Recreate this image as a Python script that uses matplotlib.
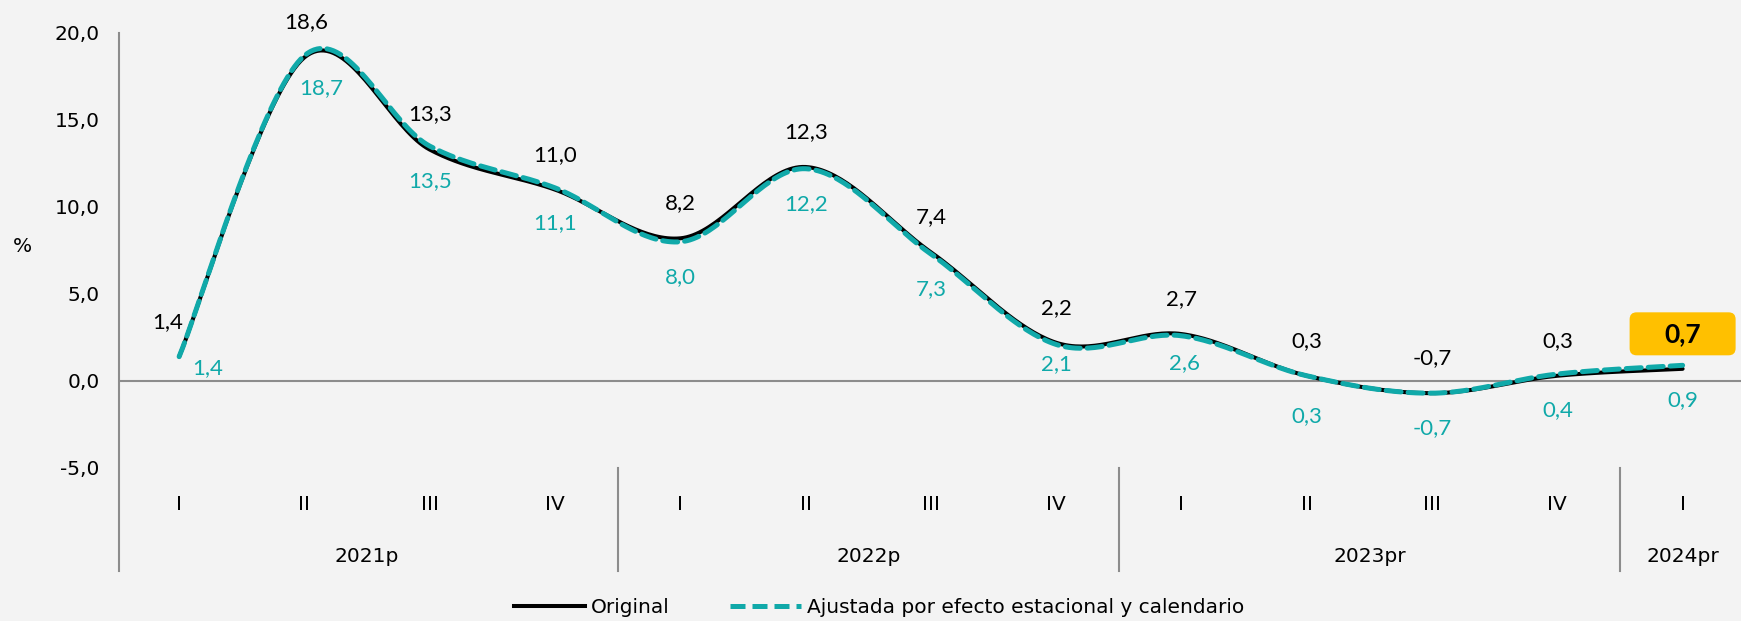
import numpy as np
import matplotlib
matplotlib.use('Agg')
import matplotlib.pyplot as plt
from matplotlib import font_manager
from matplotlib.lines import Line2D
from matplotlib.patches import FancyBboxPatch
from matplotlib.transforms import IdentityTransform

# data
quarters = ['I', 'II', 'III', 'IV', 'I', 'II', 'III', 'IV', 'I', 'II', 'III', 'IV', 'I']
years = ['2021p', '2022p', '2023pr', '2024pr']
year_centers = [1.5, 5.5, 9.5, 12]
original = [1.4, 18.6, 13.3, 11.0, 8.2, 12.3, 7.4, 2.2, 2.7, 0.3, -0.7, 0.3, 0.7]
adjusted = [1.4, 18.7, 13.5, 11.1, 8.0, 12.2, 7.3, 2.1, 2.6, 0.3, -0.7, 0.4, 0.9]

# label nudges in pixels (layout only)
orig_dx = [-11, 2, 0, 0, 0, 0, 0, 0, 0, 0, 0, 0, 0]
adj_dx = [29, 17, 0, 0, 0, 0, 0, 0, 3, 0, 0, 0, 0]
adj_dy = [11, 32, 35, 35, 35, 35, 35, 20, 27, 40, 35, 36, 35]

TEAL = '#10A9A9'
BG = '#F3F3F3'
GREY = '#8C8C8C'

names = {f.name for f in font_manager.fontManager.ttflist}
if 'Liberation Sans Narrow' in names:
    LABEL_FONT, LABEL_SIZE, BOLD_SIZE = 'Liberation Sans Narrow', 17.5, 20
else:
    LABEL_FONT, LABEL_SIZE, BOLD_SIZE = 'Lato', 16, 19

plt.rcParams['font.family'] = ['DejaVu Sans']


def smooth(y, steps=40):
    """Excel-style smoothed line (Catmull-Rom as cubic Bezier)."""
    p = np.column_stack([np.arange(len(y)), y]).astype(float)
    n = len(p)
    out = []
    t = np.linspace(0, 1, steps)[:, None]
    for i in range(n - 1):
        p0, p1, p2, p3 = p[max(i - 1, 0)], p[i], p[i + 1], p[min(i + 2, n - 1)]
        c1 = p1 + (p2 - p0) / 6
        c2 = p2 - (p3 - p1) / 6
        seg = (1 - t) ** 3 * p1 + 3 * (1 - t) ** 2 * t * c1 + 3 * (1 - t) * t ** 2 * c2 + t ** 3 * p2
        out.append(seg if i == 0 else seg[1:])
    return np.vstack(out)


def fmt(v):
    return f"{v:.1f}".replace('.', ',')


fig = plt.figure(figsize=(17.41, 6.21), dpi=100, facecolor=BG)
ax = fig.add_axes([119 / 1741, 1 - 571 / 621, 1 - 119 / 1741, (571 - 33) / 621])
ax.set_facecolor(BG)

ax.set_xlim(-0.48, 12.466)
ax.set_ylim(-10.92, 20)

for side in ['top', 'right', 'bottom']:
    ax.spines[side].set_visible(False)
ax.spines['left'].set_color(GREY)
ax.spines['left'].set_linewidth(1.5)
ax.axhline(0, color=GREY, lw=1.5, zorder=1)

ax.set_yticks([-5, 0, 5, 10, 15, 20])
ax.set_yticklabels([fmt(v) for v in [-5, 0, 5, 10, 15, 20]], fontsize=14.5)
ax.tick_params(axis='y', length=0, pad=14)
ax.set_xticks([])

# multi-level category axis
for s in [3.5, 7.5, 11.5]:
    ax.plot([s, s], [-5, -10.92], color=GREY, lw=1.5, clip_on=False)
for i, q in enumerate(quarters):
    ax.text(i, -7.07, q, ha='center', va='center', fontsize=14.5)
for c, yr in zip(year_centers, years):
    ax.text(c, -10.06, yr, ha='center', va='center', fontsize=14.5)

fig.text(22 / 1741, 1 - 246 / 621, '%', ha='center', va='center', fontsize=14.5)

c1 = smooth(original)
c2 = smooth(adjusted)
ax.plot(c1[:, 0], c1[:, 1], color='black', lw=2.9, solid_capstyle='round', zorder=3)
ax.plot(c2[:, 0], c2[:, 1], color=TEAL, lw=3.6, dashes=(3, 1.4), dash_capstyle='round', zorder=4)

for i, v in enumerate(original):
    last = i == len(original) - 1
    ax.annotate(fmt(v), (i, v), xytext=(orig_dx[i], 35), textcoords='offset pixels',
                ha='center', va='center', fontsize=BOLD_SIZE if last else LABEL_SIZE,
                fontweight='bold' if last else 'normal', family=LABEL_FONT,
                color='black', zorder=7)
for i, v in enumerate(adjusted):
    ax.annotate(fmt(v), (i, v), xytext=(adj_dx[i], -adj_dy[i]), textcoords='offset pixels',
                ha='center', va='center', fontsize=LABEL_SIZE, family=LABEL_FONT,
                color=TEAL, zorder=7)

# yellow highlight box behind the latest value
cx, cy = ax.transData.transform((len(original) - 1, original[-1]))
cy += 35
box = FancyBboxPatch((cx - 53, cy - 21.5), 106, 43, boxstyle='round,pad=0,rounding_size=7',
                     facecolor='#FFC000', edgecolor='none', transform=IdentityTransform(),
                     zorder=5, clip_on=False)
ax.add_artist(box)

handles = [Line2D([], [], color='black', lw=2.9),
           Line2D([], [], color=TEAL, lw=3.6, dashes=(3, 1.4))]
fig.legend(handles, ['Original', 'Ajustada por efecto estacional y calendario'],
           loc='center', bbox_to_anchor=(0.505, 0.022), ncol=2, frameon=False,
           fontsize=14.5, handlelength=3.5, handletextpad=0.3, columnspacing=3.0)

fig.savefig('out.png', dpi=100, facecolor=BG)
